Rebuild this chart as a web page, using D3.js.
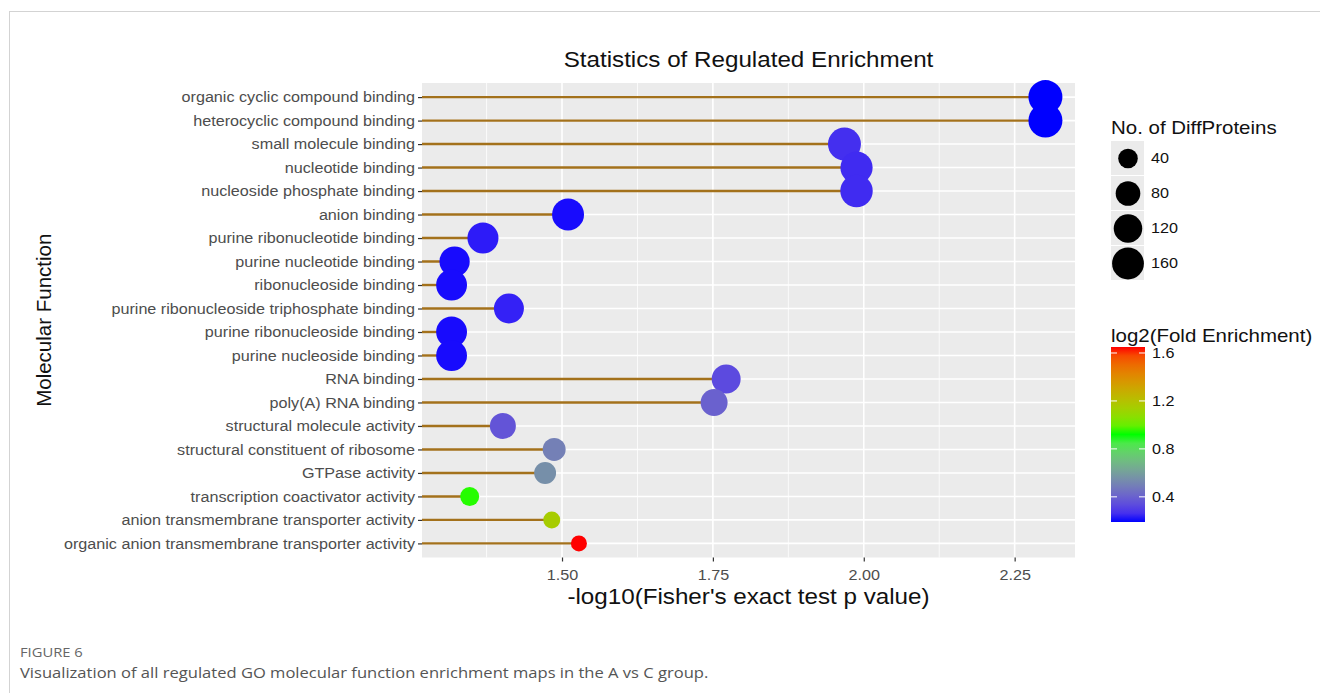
<!DOCTYPE html>
<html>
<head>
<meta charset="utf-8">
<script src="https://cdn.jsdelivr.net/npm/d3@7"></script>
<style>
  html, body { margin: 0; padding: 0; background: #fff; }
  svg { display: block; }
</style>
</head>
<body>
<svg id="chart" width="1320" height="693"></svg>
<script>
// GO molecular function terms (top to bottom)
const terms = [
  "organic cyclic compound binding",
  "heterocyclic compound binding",
  "small molecule binding",
  "nucleotide binding",
  "nucleoside phosphate binding",
  "anion binding",
  "purine ribonucleotide binding",
  "purine nucleotide binding",
  "ribonucleoside binding",
  "purine ribonucleoside triphosphate binding",
  "purine ribonucleoside binding",
  "purine nucleoside binding",
  "RNA binding",
  "poly(A) RNA binding",
  "structural molecule activity",
  "structural constituent of ribosome",
  "GTPase activity",
  "transcription coactivator activity",
  "anion transmembrane transporter activity",
  "organic anion transmembrane transporter activity"
];
// -log10(Fisher's exact test p value)
const pValues = [2.301, 2.301, 1.968, 1.988, 1.988, 1.510, 1.369, 1.322, 1.317, 1.412,
                 1.317, 1.317, 1.772, 1.752, 1.402, 1.487, 1.472, 1.347, 1.483, 1.528];
// No. of DiffProteins
const counts = [190, 190, 176, 165, 168, 162, 150, 140, 148, 137,
                148, 148, 125, 103, 93, 65, 57, 36, 25, 20];
// log2(Fold Enrichment)
const log2FE = [0.19, 0.19, 0.26, 0.25, 0.25, 0.20, 0.22, 0.20, 0.20, 0.23,
                0.20, 0.20, 0.33, 0.40, 0.36, 0.50, 0.55, 0.93, 1.15, 1.65];

const xTicks = [1.50, 1.75, 2.00, 2.25];
const xMinorTicks = [1.375, 1.625, 1.875, 2.125];
const sizeBreaks = [40, 80, 120, 160];
const colorBreaks = [0.4, 0.8, 1.2, 1.6];

const FONT = "'Liberation Sans', Arial, Helvetica, sans-serif";
const STRETCH = 1.1;   // slightly wide lettering
const svg = d3.select("#chart");

// widen a text element horizontally about its own x anchor
function widen(sel, s = STRETCH) {
  sel.each(function () {
    const t = d3.select(this);
    const ax = +t.attr("x") || 0;
    t.attr("transform", `translate(${ax * (1 - s)},0) scale(${s},1)`);
  });
}

// outer frame of the figure
svg.append("rect").attr("x", 9.5).attr("y", 11.5).attr("width", 1330).attr("height", 700)
  .attr("fill", "none").attr("stroke", "#d3d3d3").attr("stroke-width", 1);

const panel = { left: 422, right: 1075, top: 83, bottom: 557.5 };

const x = d3.scaleLinear().domain([1.268, 2.350]).range([panel.left, panel.right]);
const y = d3.scalePoint().domain(terms).range([panel.top, panel.bottom]).padding(0.6);

const size = d3.scalePow().exponent(0.5)
  .domain([d3.min(counts), d3.max(counts)]).range([8, 17]);

const cMin = d3.min(log2FE), cMax = d3.max(log2FE);
const color = d3.scaleLinear()
  .domain([cMin, (cMin + cMax) / 2, cMax])
  .range(["blue", "#00ff00", "red"])
  .interpolate(d3.interpolateLab);

// panel background
svg.append("rect").attr("x", panel.left).attr("y", panel.top)
  .attr("width", panel.right - panel.left).attr("height", panel.bottom - panel.top)
  .attr("fill", "#ebebeb");

const grid = svg.append("g");
grid.selectAll(".minor").data(xMinorTicks).join("line")
  .attr("x1", d => x(d)).attr("x2", d => x(d))
  .attr("y1", panel.top).attr("y2", panel.bottom)
  .attr("stroke", "#fff").attr("stroke-width", 0.8);
grid.selectAll(".majorx").data(xTicks).join("line")
  .attr("x1", d => x(d)).attr("x2", d => x(d))
  .attr("y1", panel.top).attr("y2", panel.bottom)
  .attr("stroke", "#fff").attr("stroke-width", 1.6);
grid.selectAll(".majory").data(terms).join("line")
  .attr("x1", panel.left).attr("x2", panel.right)
  .attr("y1", d => y(d)).attr("y2", d => y(d))
  .attr("stroke", "#fff").attr("stroke-width", 1.6);

const rows = terms.map((t, i) => ({ term: t, p: pValues[i], n: counts[i], fe: log2FE[i] }));

// lollipop stems
svg.append("g").selectAll("line").data(rows).join("line")
  .attr("x1", panel.left).attr("x2", d => x(d.p))
  .attr("y1", d => y(d.term)).attr("y2", d => y(d.term))
  .attr("stroke", "#a3711b").attr("stroke-width", 2.4);

// bubbles
svg.append("g").selectAll("circle").data(rows).join("circle")
  .attr("cx", d => x(d.p)).attr("cy", d => y(d.term))
  .attr("r", d => size(d.n))
  .attr("fill", d => color(d.fe));

// y axis
const yAxis = svg.append("g").attr("transform", `translate(${panel.left},0)`)
  .call(d3.axisLeft(y).tickSize(4).tickPadding(3));
yAxis.select(".domain").remove();
yAxis.selectAll(".tick line").attr("stroke", "#333").attr("stroke-width", 1.2);
yAxis.selectAll(".tick text").attr("fill", "#4d4d4d")
  .style("font-family", FONT).style("font-size", "14.7px").call(widen);

// x axis
const xAxis = svg.append("g").attr("transform", `translate(0,${panel.bottom})`)
  .call(d3.axisBottom(x).tickValues(xTicks).tickFormat(d3.format(".2f")).tickSize(4).tickPadding(8));
xAxis.select(".domain").remove();
xAxis.selectAll(".tick line").attr("stroke", "#333").attr("stroke-width", 1.2);
xAxis.selectAll(".tick text").attr("fill", "#4d4d4d")
  .style("font-family", FONT).style("font-size", "14.7px").call(widen);

// titles
svg.append("text").attr("x", (panel.left + panel.right) / 2).attr("y", 67)
  .attr("text-anchor", "middle").style("font-family", FONT).style("font-size", "22px")
  .attr("fill", "#111").text("Statistics of Regulated Enrichment").call(widen);
svg.append("text").attr("x", (panel.left + panel.right) / 2).attr("y", 604)
  .attr("text-anchor", "middle").style("font-family", FONT).style("font-size", "22px")
  .attr("fill", "#111").text("-log10(Fisher's exact test p value)").call(widen);
svg.append("text")
  .attr("transform", `translate(51,${(panel.top + panel.bottom) / 2}) rotate(-90)`)
  .attr("text-anchor", "middle").style("font-family", FONT).style("font-size", "20.5px")
  .attr("fill", "#111").text("Molecular Function");

// size legend
const sl = svg.append("g").attr("transform", "translate(1111,0)");
sl.append("text").attr("x", 0).attr("y", 134).style("font-family", FONT).style("font-size", "18.6px")
  .attr("fill", "#111").text("No. of DiffProteins").call(widen);
const keyH = 35, keyTop = 141;
const keys = sl.selectAll("g.key").data(sizeBreaks).join("g")
  .attr("transform", (d, i) => `translate(0,${keyTop + i * keyH})`);
keys.append("rect").attr("width", 33).attr("height", keyH - 1).attr("fill", "#ebebeb");
keys.append("circle").attr("cx", 17).attr("cy", keyH / 2).attr("r", d => size(d)).attr("fill", "#000");
keys.append("text").attr("x", 40).attr("y", keyH / 2 + 5)
  .style("font-family", FONT).style("font-size", "14.7px").attr("fill", "#111").text(d => d).call(widen);

// colour bar legend
const cl = svg.append("g").attr("transform", "translate(1111,0)");
cl.append("text").attr("x", 0).attr("y", 342).style("font-family", FONT).style("font-size", "18.6px")
  .attr("fill", "#111").text("log2(Fold Enrichment)").call(widen);
const barY = d3.scaleLinear().domain([cMin, cMax]).range([522, 347]);
const defs = svg.append("defs");
const grad = defs.append("linearGradient").attr("id", "feGrad")
  .attr("x1", 0).attr("y1", 1).attr("x2", 0).attr("y2", 0);
d3.range(0, 1.0001, 0.05).forEach(t => {
  grad.append("stop").attr("offset", t).attr("stop-color", color(cMin + t * (cMax - cMin)));
});
cl.append("rect").attr("x", 0).attr("y", barY(cMax)).attr("width", 34)
  .attr("height", barY(cMin) - barY(cMax)).attr("fill", "url(#feGrad)");
const cTicks = cl.selectAll("g.ct").data(colorBreaks).join("g")
  .attr("transform", d => `translate(0,${barY(d)})`);
cTicks.append("line").attr("x1", 0).attr("x2", 6).attr("stroke", "#fff").attr("stroke-width", 1);
cTicks.append("line").attr("x1", 28).attr("x2", 34).attr("stroke", "#fff").attr("stroke-width", 1);
cTicks.append("text").attr("x", 41).attr("y", 5)
  .style("font-family", FONT).style("font-size", "14.7px").attr("fill", "#111")
  .text(d => d.toFixed(1)).call(widen);

// caption
const CAP = "'Open Sans', 'Noto Sans', sans-serif";
svg.append("text").attr("x", 20).attr("y", 657).style("font-family", CAP).style("font-size", "13.4px")
  .attr("fill", "#666").text("FIGURE 6").call(widen);
svg.append("text").attr("x", 20).attr("y", 678).style("font-family", CAP).style("font-size", "15.05px")
  .attr("fill", "#555").text("Visualization of all regulated GO molecular function enrichment maps in the A vs C group.").call(widen);
</script>
</body>
</html>
